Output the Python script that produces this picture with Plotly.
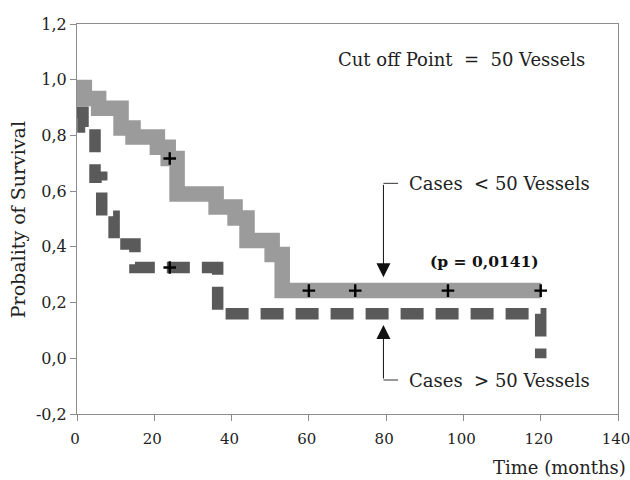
import plotly.graph_objects as go

# ---- data ----
# Cases < 50 vessels (light grey Kaplan-Meier step curve)
low_times = [0, 1.9, 5.6, 11.4, 14.5, 20.8, 23.6, 25.9, 36.0, 40.9, 44.0, 50.5, 53.1, 120]
low_surv = [0.972, 0.933, 0.898, 0.827, 0.794, 0.758, 0.717, 0.59, 0.543, 0.504, 0.423, 0.373, 0.243, 0.243]
low_cens_t = [24, 60, 72, 96, 120]
low_cens_s = [0.717, 0.243, 0.243, 0.243, 0.243]

# Cases > 50 vessels (dark grey dashed step curve)
high_times = [0, 1.55, 4.66, 6.4, 9.6, 15.0, 36.4, 120, 120]
high_surv = [0.883, 0.83, 0.65, 0.51, 0.41, 0.326, 0.16, 0.16, 0.0]
high_cens_t = [24]
high_cens_s = [0.326]

x_ticks = [0, 20, 40, 60, 80, 100, 120, 140]
y_ticks = [-0.2, 0.0, 0.2, 0.4, 0.6, 0.8, 1.0, 1.2]
y_ticktext = ["-0,2", "0,0", "0,2", "0,4", "0,6", "0,8", "1,0", "1,2"]

LIGHT = "#9b9b9b"
DARK = "#5a5a5a"
AXC = "#8c8c8c"
FONT = "DejaVu Serif"
TXT = "#222222"

fig = go.Figure()

fig.add_trace(go.Scatter(
    x=low_times, y=low_surv, mode="lines", line_shape="hv",
    line=dict(color=LIGHT, width=15.5), showlegend=False, hoverinfo="skip"))
fig.add_trace(go.Scatter(
    x=high_times, y=high_surv, mode="lines", line_shape="hv",
    line=dict(color=DARK, width=11.5, dash="23px,12px"), showlegend=False, hoverinfo="skip"))
fig.add_trace(go.Scatter(
    x=low_cens_t + high_cens_t, y=low_cens_s + high_cens_s, mode="markers",
    marker=dict(symbol="cross-thin", size=9, line=dict(color="black", width=2.4)),
    showlegend=False, hoverinfo="skip", cliponaxis=False))

annos = []
annos.append(dict(x=132.0, y=1.071, xref="x", yref="y", text="Cut off Point  =  50 Vessels",
                  showarrow=False, xanchor="right", yanchor="middle",
                  font=dict(family=FONT, size=18, color=TXT)))
annos.append(dict(x=85.3, y=0.626, xref="x", yref="y", text="Cases  < 50 Vessels",
                  showarrow=False, xanchor="left", yanchor="middle",
                  font=dict(family=FONT, size=18, color=TXT)))
annos.append(dict(x=85.3, y=-0.078, xref="x", yref="y", text="Cases  > 50 Vessels",
                  showarrow=False, xanchor="left", yanchor="middle",
                  font=dict(family=FONT, size=18, color=TXT)))
annos.append(dict(x=105.5, y=0.347, xref="x", yref="y", text="<b>(p = 0,0141)</b>",
                  showarrow=False, xanchor="center", yanchor="middle",
                  font=dict(family=FONT, size=15.5, color="#111111")))
# arrows
annos.append(dict(x=79.3, y=0.291, ax=79.3, ay=0.628, xref="x", yref="y", axref="x", ayref="y",
                  text="", showarrow=True, arrowhead=2, arrowsize=2.8, arrowwidth=1,
                  arrowcolor="#111111"))
annos.append(dict(x=79.3, y=0.1195, ax=79.3, ay=-0.078, xref="x", yref="y", axref="x", ayref="y",
                  text="", showarrow=True, arrowhead=2, arrowsize=2.8, arrowwidth=1,
                  arrowcolor="#111111"))
# axis titles
annos.append(dict(x=-0.109, y=0.497, xref="paper", yref="paper", text="Probality of Survival",
                  textangle=-90, showarrow=False, xanchor="center", yanchor="middle",
                  font=dict(family=FONT, size=19, color=TXT)))
annos.append(dict(x=1.0185, y=-0.138, xref="paper", yref="paper", text="Time (months)",
                  showarrow=False, xanchor="right", yanchor="middle",
                  font=dict(family=FONT, size=18, color=TXT)))

shapes = [
    dict(type="line", xref="x", yref="y", x0=79.3, y0=0.628, x1=83.1, y1=0.628,
         line=dict(color="#333333", width=1)),
    dict(type="line", xref="x", yref="y", x0=79.3, y0=-0.078, x1=83.1, y1=-0.078,
         line=dict(color="#333333", width=1)),
]

fig.update_layout(
    width=630, height=480,
    margin=dict(l=77, r=12, t=24, b=66),
    paper_bgcolor="white", plot_bgcolor="white",
    annotations=annos, shapes=shapes,
    xaxis=dict(range=[0, 140], tickvals=x_ticks, ticktext=[str(v) for v in x_ticks],
               showgrid=False, zeroline=False, showline=True, linecolor=AXC, linewidth=1,
               mirror=True, ticks="outside", ticklen=6, tickcolor=AXC,
               ticklabelstandoff=5, ticklabelshift=-2, ticklabeloverflow="allow",
               automargin=False,
               tickfont=dict(family=FONT, size=15, color=TXT)),
    yaxis=dict(range=[-0.2, 1.2], tickvals=y_ticks, ticktext=y_ticktext,
               showgrid=False, zeroline=False, showline=True, linecolor=AXC, linewidth=1,
               mirror=True, ticks="outside", ticklen=6, tickcolor=AXC, automargin=False,
               tickfont=dict(family=FONT, size=16, color=TXT)),
)

# remove the default page margin so the 630x480 figure fills the window exactly
fig.write_html("out.html", config={"displayModeBar": False},
               post_script="document.body.style.margin='0';document.body.style.overflow='hidden';")
